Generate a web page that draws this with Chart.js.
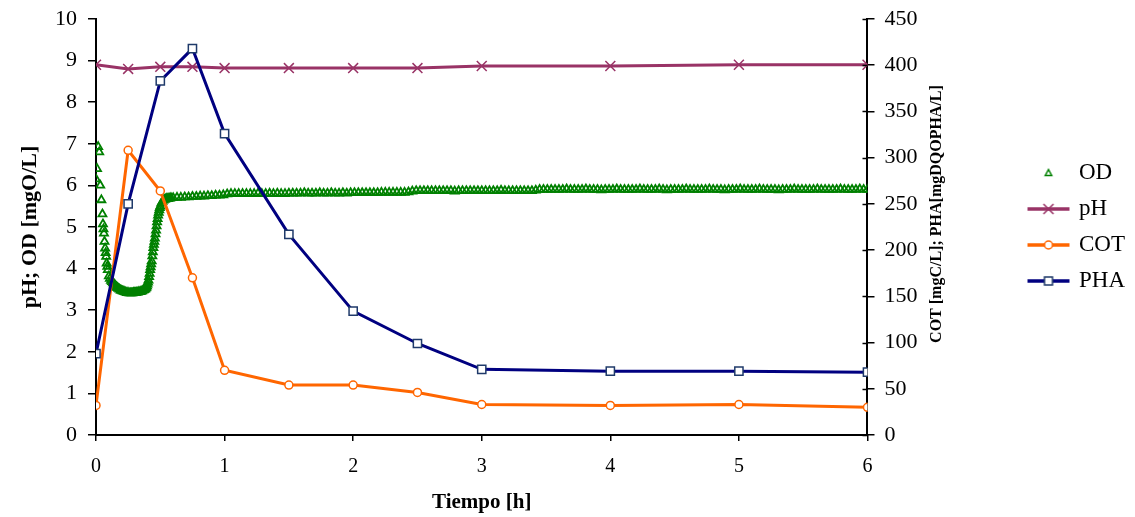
<!DOCTYPE html>
<html><head><meta charset="utf-8">
<script src="https://cdn.jsdelivr.net/npm/chart.js@4.4.0/dist/chart.umd.min.js"></script>
<style>html,body{margin:0;padding:0;background:#fff;}#wrap{width:1135px;height:517px;}</style>
</head><body><div id="wrap"><canvas id="c" width="1135" height="517"></canvas></div>
<script>
// ---- data ----
const xTicks = [0, 1, 2, 3, 4, 5, 6];
const sampleTime = [0, 0.25, 0.5, 0.75, 1, 1.5, 2, 2.5, 3, 4, 5, 6];
const phValues  = [8.9, 8.8, 8.85, 8.85, 8.82, 8.82, 8.82, 8.82, 8.87, 8.87, 8.9, 8.9];
const cotValues = [32, 308, 264, 170, 70, 54, 54, 46, 33, 32, 33, 30];
const phaValues = [88, 250, 383, 418, 326, 217, 134, 99, 71, 69, 69, 68];

const odTime = [
 0.000,0.008,0.017,0.025,0.033,0.042,0.050,0.054,0.058,0.062,
 0.066,0.071,0.075,0.079,0.083,0.088,0.092,0.100,0.108,0.117,
 0.125,0.133,0.142,0.150,0.158,0.167,0.175,0.183,0.192,0.200,
 0.208,0.217,0.225,0.233,0.242,0.250,0.258,0.267,0.275,0.283,
 0.292,0.300,0.308,0.317,0.325,0.333,0.342,0.350,0.358,0.367,
 0.375,0.383,0.388,0.392,0.396,0.400,0.404,0.408,0.413,0.417,
 0.421,0.425,0.429,0.433,0.438,0.442,0.446,0.450,0.454,0.458,
 0.463,0.467,0.471,0.475,0.479,0.483,0.488,0.492,0.496,0.500,
 0.508,0.517,0.525,0.533,0.542,0.550,0.558,0.567,0.575,0.583,
 0.60,0.63,0.66,0.69,0.72,0.75,0.78,0.81,0.84,0.87,
 0.90,0.93,0.96,0.99,1.02,1.05,1.08,1.11,1.14,1.17,
 1.20,1.23,1.26,1.29,1.32,1.35,1.38,1.41,1.44,1.47,
 1.50,1.53,1.56,1.59,1.62,1.65,1.68,1.71,1.74,1.77,
 1.80,1.83,1.86,1.89,1.92,1.95,1.98,2.01,2.04,2.07,
 2.10,2.13,2.16,2.19,2.22,2.25,2.28,2.31,2.34,2.37,
 2.40,2.43,2.46,2.49,2.52,2.55,2.58,2.61,2.64,2.67,
 2.70,2.73,2.76,2.79,2.82,2.85,2.88,2.91,2.94,2.97,
 3.00,3.03,3.06,3.09,3.12,3.15,3.18,3.21,3.24,3.27,
 3.30,3.33,3.36,3.39,3.42,3.45,3.48,3.51,3.54,3.57,
 3.60,3.63,3.66,3.69,3.72,3.75,3.78,3.81,3.84,3.87,
 3.90,3.93,3.96,3.99,4.02,4.05,4.08,4.11,4.14,4.17,
 4.20,4.23,4.26,4.29,4.32,4.35,4.38,4.41,4.44,4.47,
 4.50,4.53,4.56,4.59,4.62,4.65,4.68,4.71,4.74,4.77,
 4.80,4.83,4.86,4.89,4.92,4.95,4.98,5.01,5.04,5.07,
 5.10,5.13,5.16,5.19,5.22,5.25,5.28,5.31,5.34,5.37,
 5.40,5.43,5.46,5.49,5.52,5.55,5.58,5.61,5.64,5.67,
 5.70,5.73,5.76,5.79,5.82,5.85,5.88,5.91,5.94,5.97,
 6.00
];
const odValues = [
 6.15,6.40,6.93,6.80,6.00,5.65,5.31,5.07,4.95,4.85,
 4.65,4.49,4.38,4.29,4.13,4.05,3.97,3.82,3.76,3.71,
 3.68,3.65,3.62,3.59,3.56,3.54,3.52,3.50,3.48,3.47,
 3.46,3.45,3.44,3.43,3.42,3.42,3.41,3.41,3.41,3.41,
 3.42,3.42,3.42,3.43,3.43,3.44,3.44,3.45,3.46,3.48,
 3.49,3.51,3.53,3.55,3.58,3.62,3.67,3.72,3.80,3.88,
 3.97,4.04,4.11,4.18,4.30,4.40,4.50,4.58,4.65,4.73,
 4.83,4.92,5.02,5.12,5.20,5.28,5.35,5.41,5.46,5.50,
 5.57,5.61,5.64,5.66,5.67,5.68,5.68,5.69,5.69,5.70,
 5.70,5.71,5.71,5.72,5.72,5.73,5.73,5.74,5.74,5.75,
 5.75,5.76,5.76,5.77,5.79,5.80,5.80,5.80,5.80,5.80,
 5.80,5.80,5.81,5.80,5.80,5.81,5.80,5.81,5.80,5.80,
 5.81,5.81,5.81,5.81,5.82,5.81,5.81,5.81,5.82,5.81,
 5.81,5.82,5.81,5.81,5.82,5.81,5.82,5.82,5.82,5.82,
 5.82,5.82,5.82,5.82,5.83,5.83,5.83,5.83,5.83,5.83,
 5.83,5.84,5.86,5.87,5.87,5.87,5.87,5.87,5.87,5.87,
 5.87,5.87,5.87,5.86,5.87,5.87,5.87,5.87,5.87,5.87,
 5.87,5.87,5.87,5.87,5.87,5.88,5.87,5.87,5.87,5.87,
 5.87,5.87,5.87,5.87,5.88,5.90,5.90,5.90,5.90,5.90,
 5.90,5.90,5.91,5.90,5.90,5.90,5.90,5.91,5.90,5.90,
 5.90,5.89,5.90,5.90,5.90,5.91,5.90,5.90,5.90,5.90,
 5.90,5.91,5.90,5.90,5.90,5.90,5.91,5.90,5.89,5.90,
 5.90,5.90,5.90,5.91,5.90,5.90,5.90,5.90,5.90,5.91,
 5.90,5.90,5.90,5.89,5.90,5.90,5.90,5.91,5.90,5.90,
 5.90,5.90,5.91,5.90,5.90,5.90,5.90,5.89,5.90,5.90,
 5.90,5.91,5.90,5.90,5.90,5.90,5.90,5.91,5.90,5.90,
 5.90,5.90,5.90,5.91,5.90,5.90,5.90,5.90,5.91,5.90,
 5.90
];
const seriesNames = ['OD', 'pH', 'COT', 'PHA'];
const xTitle = 'Tiempo [h]';
const yLeftTitle = 'pH; OD [mgO/L]';
const yRightTitle = 'COT [mgC/L]; PHA[mgDQOPHA/L]';

// ---- styles ----
const FONT = "'Liberation Serif', 'DejaVu Serif', serif";
const odColor = '#008000', phColor = '#993366', cotColor = '#FF6600', phaColor = '#000080', phaMarker = '#1F3A6A';

function pts(xs, ys) { return xs.map((x, i) => ({x: x, y: ys[i]})); }

function legendIcon(kind) {
  const c = document.createElement('canvas');
  c.width = 44; c.height = 16;
  const g = c.getContext('2d');
  const cx = 22, cy = 8;
  if (kind !== 'OD') {
    g.strokeStyle = kind === 'pH' ? phColor : kind === 'COT' ? cotColor : phaColor;
    g.lineWidth = 3.5;
    g.beginPath(); g.moveTo(1, cy); g.lineTo(43, cy); g.stroke();
  }
  g.lineWidth = 1.5;
  if (kind === 'OD') {
    g.strokeStyle = odColor;
    g.beginPath(); g.moveTo(cx, cy - 3.5); g.lineTo(cx + 3.2, cy + 2.5); g.lineTo(cx - 3.2, cy + 2.5); g.closePath(); g.stroke();
  } else if (kind === 'pH') {
    g.strokeStyle = phColor;
    g.beginPath(); g.moveTo(cx - 5, cy - 5); g.lineTo(cx + 5, cy + 5); g.moveTo(cx + 5, cy - 5); g.lineTo(cx - 5, cy + 5); g.stroke();
  } else if (kind === 'COT') {
    g.fillStyle = '#fff'; g.strokeStyle = cotColor;
    g.beginPath(); g.arc(cx, cy, 4, 0, Math.PI * 2); g.fill(); g.stroke();
  } else {
    g.fillStyle = '#fff'; g.strokeStyle = phaMarker;
    g.fillRect(cx - 4, cy - 4, 8, 8); g.strokeRect(cx - 4, cy - 4, 8, 8);
  }
  return c;
}

const rightTitlePlugin = {
  id: 'rightTitle',
  afterDraw(chart) {
    const s = chart.scales.y2, ctx = chart.ctx;
    ctx.save();
    ctx.font = "bold 16px " + FONT;
    ctx.fillStyle = '#000';
    ctx.textAlign = 'center'; ctx.textBaseline = 'middle';
    ctx.translate(s.left + 69, (chart.chartArea.top + chart.chartArea.bottom) / 2 - 13);
    ctx.rotate(-Math.PI / 2);
    ctx.fillText(yRightTitle, 0, 0);
    ctx.restore();
    ctx.save();
    ctx.strokeStyle = '#000'; ctx.lineWidth = 1.5;
    s.ticks.forEach(t => {
      const y = Math.round(s.getPixelForValue(t.value)) + 0.5;
      ctx.beginPath(); ctx.moveTo(s.left - 5, y); ctx.lineTo(s.left, y); ctx.stroke();
    });
    ctx.restore();
  }
};

const axisGrid = {display: true, drawOnChartArea: false, drawTicks: true, color: '#000', lineWidth: 1.5};
const axisBorder = {display: true, color: '#000', width: 2};
function noVPad(s) { s.paddingTop = 0; s.paddingBottom = 0; }

new Chart(document.getElementById('c'), {
  type: 'line',
  data: {
    datasets: [
      {label: seriesNames[0], data: pts(odTime, odValues), yAxisID: 'y', showLine: false, order: 4,
       pointStyle: 'triangle', pointRadius: 4.6, pointBorderWidth: 1.8, pointBorderColor: odColor,
       pointBackgroundColor: 'rgba(0,0,0,0)', borderColor: odColor},
      {label: seriesNames[1], data: pts(sampleTime, phValues), yAxisID: 'y', order: 3,
       borderColor: phColor, borderWidth: 3, pointStyle: 'crossRot', pointRadius: 7,
       pointBorderWidth: 1.5, pointBorderColor: phColor, pointBackgroundColor: phColor},
      {label: seriesNames[2], data: pts(sampleTime, cotValues), yAxisID: 'y2', order: 2,
       borderColor: cotColor, borderWidth: 3, pointStyle: 'circle', pointRadius: 4,
       pointBorderWidth: 1.5, pointBorderColor: cotColor, pointBackgroundColor: '#fff'},
      {label: seriesNames[3], data: pts(sampleTime, phaValues), yAxisID: 'y2', order: 1,
       borderColor: phaColor, borderWidth: 3, pointStyle: 'rect', pointRadius: 5.8,
       pointBorderWidth: 1.5, pointBorderColor: phaMarker, pointBackgroundColor: '#fff'}
    ]
  },
  options: {
    responsive: false, animation: false, devicePixelRatio: 1,
    layout: {padding: {top: 19, right: 0, bottom: 0, left: 0}},
    plugins: {
      tooltip: {enabled: false},
      legend: {
        position: 'right', fullSize: false, align: 'center',
        labels: {
          usePointStyle: true, pointStyleWidth: 38, padding: 13, color: '#000',
          font: {family: FONT, size: 23},
          generateLabels: () => seriesNames.map((n, i) => ({
            text: n, pointStyle: legendIcon(n), fillStyle: '#fff', strokeStyle: '#000',
            lineWidth: 0, hidden: false, datasetIndex: i, fontColor: '#000'
          }))
        },
        onClick: null
      }
    },
    scales: {
      x: {
        type: 'linear', min: 0, max: 6,
        afterBuildTicks: s => { s.ticks = xTicks.map(v => ({value: v})); },
        afterFit: s => { s.height = 82; s.paddingLeft = 0; s.paddingRight = 0; },
        grid: Object.assign({}, axisGrid, {tickLength: 6}),
        border: axisBorder,
        ticks: {color: '#000', font: {family: FONT, size: 20}, padding: 14, maxRotation: 0},
        title: {display: true, text: xTitle, color: '#000', font: {family: FONT, size: 21, weight: 'bold'}, padding: {top: 0, bottom: 2}}
      },
      y: {
        type: 'linear', position: 'left', min: 0, max: 10,
        afterFit: s => { s.width = 96; noVPad(s); },
        grid: Object.assign({}, axisGrid, {tickLength: 8}),
        border: axisBorder,
        ticks: {stepSize: 1, color: '#000', font: {family: FONT, size: 22}, padding: 11},
        title: {display: true, text: yLeftTitle, color: '#000', font: {family: FONT, size: 22, weight: 'bold'}, padding: {top: 17, bottom: 0}}
      },
      y2: {
        type: 'linear', position: 'right', min: 0, max: 450,
        afterFit: s => { s.width = 149; noVPad(s); },
        grid: Object.assign({}, axisGrid, {tickLength: 7}),
        border: axisBorder,
        ticks: {stepSize: 50, color: '#000', font: {family: FONT, size: 22}, padding: 10}
      }
    }
  },
  plugins: [rightTitlePlugin]
});
</script></body></html>
